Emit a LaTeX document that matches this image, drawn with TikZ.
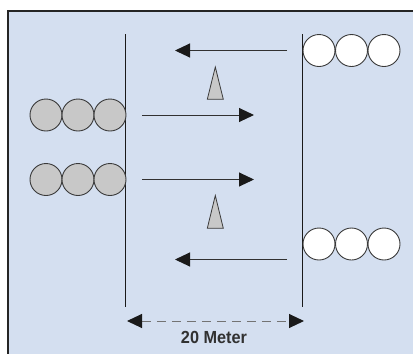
\documentclass[tikz,border=0pt]{standalone}
\usepackage{fontspec}
\setmainfont{Liberation Sans}
\usetikzlibrary{arrows.meta}
\definecolor{fieldbg}{HTML}{D4DFF0}
\definecolor{edgegray}{HTML}{3A3A3A}
\definecolor{playergray}{HTML}{C8C8C8}
\definecolor{ink}{HTML}{1A1A1A}
\tikzset{
  player/.style={circle, draw=edgegray, line width=0.9pt, minimum size=32pt, inner sep=0pt},
  teamA/.style={player, fill=playergray},
  teamB/.style={player, fill=white},
  cone/.style={draw=edgegray, fill=playergray, line width=0.8pt},
  bigtip/.tip={Triangle[length=15pt,width=14pt,color=ink]},
  runline/.style={draw=ink!90, line width=1pt, -bigtip},
  gridline/.style={draw=ink, line width=1pt},
  distline/.style={draw=black!55, line width=1pt, dash pattern=on 9pt off 6pt, bigtip-bigtip}
}
\begin{document}
\begin{tikzpicture}[x=1pt,y=-1pt]
  \useasboundingbox (0,0) rectangle (413,354);
  % playing area
  \fill[fieldbg] (8.3,11) rectangle (420,360);
  \draw[ink!95, line width=2.1pt] (8.3,360) -- (8.3,11) -- (420,11);

  % start and finish lines
  \coordinate (lt) at (125.5,34);
  \coordinate (lb) at (125.5,307);
  \coordinate (rt) at (302.5,34);
  \coordinate (rb) at (302.5,307);
  \draw[gridline] (lt) -- (lb);
  \draw[gridline] (rt) -- (rb);

  % team on the left line
  \node[teamA] (a1) at (46,115) {};
  \node[teamA] (a2) at (78,115) {};
  \node[teamA] (a3) at (110,115) {};
  \node[teamA] (b1) at (46,179.5) {};
  \node[teamA] (b2) at (78,179.5) {};
  \node[teamA] (b3) at (110,179.5) {};

  % team on the right line
  \node[teamB] (c1) at (319,50.5) {};
  \node[teamB] (c2) at (351.5,50.5) {};
  \node[teamB] (c3) at (384,50.5) {};
  \node[teamB] (d1) at (319,244) {};
  \node[teamB] (d2) at (351.5,244) {};
  \node[teamB] (d3) at (384,244) {};

  % running directions
  \coordinate (r1s) at (287,50.5);  \coordinate (r1e) at (175,50.5);
  \coordinate (r2s) at (142,115);   \coordinate (r2e) at (254,115);
  \coordinate (r3s) at (142,179.5); \coordinate (r3e) at (254,179.5);
  \coordinate (r4s) at (287,259.5); \coordinate (r4e) at (175,259.5);
  \draw[runline] (r1s) -- (r1e);
  \draw[runline] (r2s) -- (r2e);
  \draw[runline] (r3s) -- (r3e);
  \draw[runline] (r4s) -- (r4e);

  % cones
  \draw[cone] (215.3,67) -- (223.3,99.3) -- (207.3,99.3) -- cycle;
  \draw[cone] (215.3,195.5) -- (223.3,228.3) -- (207.3,228.3) -- cycle;

  % distance marker
  \coordinate (ds) at (127,321);
  \coordinate (de) at (304,321);
  \draw[distline] (ds) -- (de);
  \node[font=\bfseries\fontsize{17.5}{20}\selectfont, text=ink!90, xscale=0.93] (dist) at (214,337.5) {20 Meter};
\end{tikzpicture}
\end{document}
